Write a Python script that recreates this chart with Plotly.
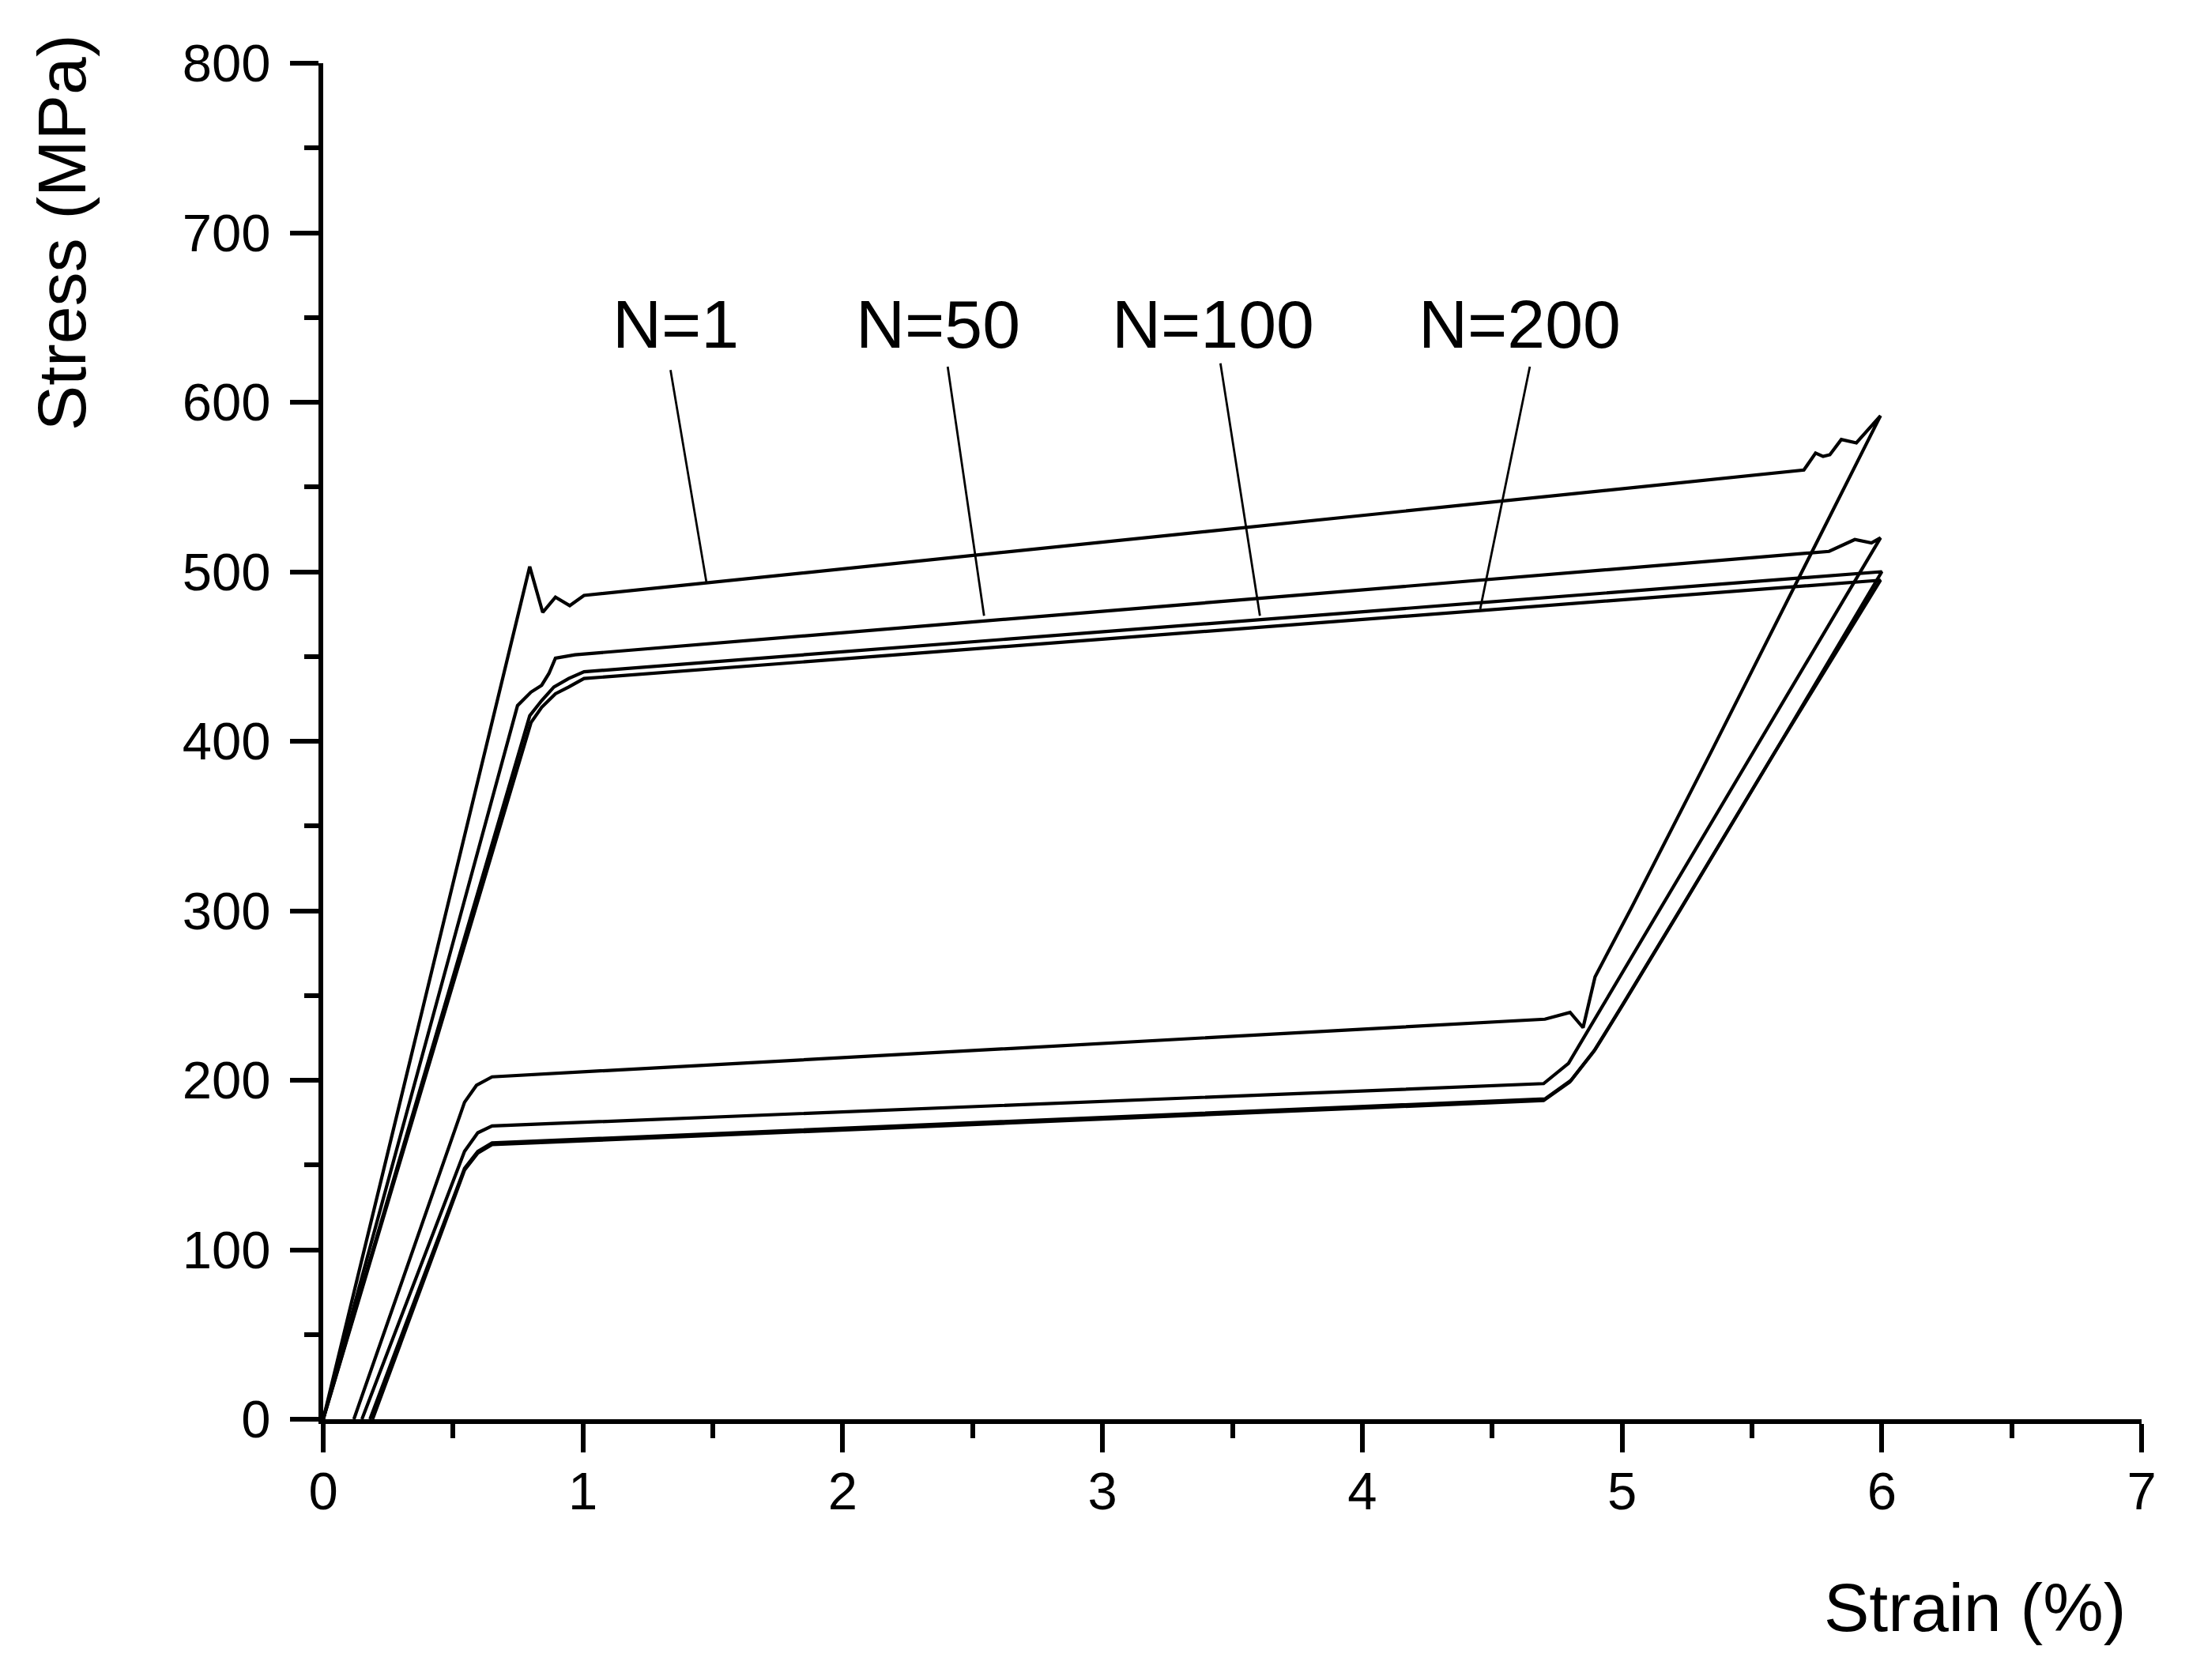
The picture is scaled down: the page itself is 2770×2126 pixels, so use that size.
import plotly.graph_objects as go

# loading/unloading loops (strain in %, stress in MPa)
strain_n1 = [0.0, 0.795, 0.845, 0.894, 0.949, 1.004, 5.70, 5.745, 5.774, 5.80, 5.844, 5.902, 5.995,
             5.344, 5.037, 4.896, 4.85, 4.80, 4.703, 0.65, 0.59, 0.544, 0.118]
stress_n1 = [0, 503, 476, 485, 480, 486, 560, 570, 568, 569, 578, 576, 592,
             394, 302, 261, 231, 240, 236, 202, 197, 187, 0]

strain_n50 = [0.0, 0.748, 0.80, 0.841, 0.869, 0.894, 0.969, 5.797, 5.896, 5.96, 5.995,
              5.506, 5.149, 4.896, 4.794, 4.698, 0.65, 0.595, 0.544, 0.149]
stress_n50 = [0, 421, 429, 433, 440, 449, 451, 512, 519, 517, 520,
              394, 302, 237, 210, 198, 173, 169, 158, 0]

strain_n100 = [0.0, 0.795, 0.841, 0.888, 0.945, 1.004, 6.0,
               5.594, 5.23, 5.097, 4.997, 4.896, 4.804, 4.703, 0.65, 0.595, 0.544, 0.18]
stress_n100 = [0, 415, 424, 432, 437, 441, 500,
               395, 302, 268, 243, 218, 200, 189, 163, 158, 148, 0]

strain_n200 = [0.0, 0.80, 0.841, 0.894, 0.945, 1.004, 5.995,
               5.59, 5.225, 5.092, 4.992, 4.891, 4.799, 4.698, 0.65, 0.595, 0.544, 0.19]
stress_n200 = [0, 411, 420, 428, 432, 437, 495,
               394, 301, 267, 242, 217, 199, 188, 162, 157, 147, 0]

labels = ["N=1", "N=50", "N=100", "N=200"]
label_x = [1.356, 2.366, 3.426, 4.606]
label_y = [646, 646, 646, 646]
# leader lines: (top point, point on curve)
leader_x = [[1.337, 1.475], [2.404, 2.544], [3.454, 3.606], [4.645, 4.454]]
leader_y = [[619, 494], [621, 474], [623, 474], [621, 478]]

FONT = "Liberation Sans, Arial, sans-serif"

fig = go.Figure()
for xs, ys in [(strain_n1, stress_n1), (strain_n50, stress_n50),
               (strain_n100, stress_n100), (strain_n200, stress_n200)]:
    fig.add_trace(go.Scatter(x=xs, y=ys, mode="lines",
                             line=dict(color="black", width=4.2), showlegend=False))

for lx, ly in zip(leader_x, leader_y):
    fig.add_trace(go.Scatter(x=lx, y=ly, mode="lines",
                             line=dict(color="black", width=2.8), showlegend=False))

for t, x, y in zip(labels, label_x, label_y):
    fig.add_annotation(x=x, y=y, text=t, showarrow=False,
                       font=dict(family=FONT, size=86, color="black"),
                       xanchor="center", yanchor="middle")

fig.add_annotation(x=-0.144, y=0.875, xref="paper", yref="paper", text="Stress (MPa)",
                   textangle=-90, showarrow=False, xanchor="center", yanchor="middle",
                   font=dict(family=FONT, size=86, color="black"))
fig.add_annotation(x=0.9085, y=-0.1385, xref="paper", yref="paper", text="Strain (%)",
                   showarrow=False, xanchor="center", yanchor="middle",
                   font=dict(family=FONT, size=86, color="black"))

axis_common = dict(showline=True, linewidth=6, linecolor="black", showgrid=False,
                   zeroline=False, ticks="outside", ticklen=36, tickwidth=6, tickcolor="black",
                   tickfont=dict(family=FONT, size=67, color="black"))

fig.update_xaxes(range=[0, 7], tick0=0, dtick=1,
                 minor=dict(dtick=0.5, ticks="outside", ticklen=18, tickwidth=6,
                            tickcolor="black", showgrid=False),
                 ticklabelstandoff=-8, **axis_common)
fig.update_yaxes(range=[0, 800], tick0=0, dtick=100,
                 minor=dict(dtick=50, ticks="outside", ticklen=18, tickwidth=6,
                            tickcolor="black", showgrid=False),
                 ticklabelstandoff=11, **axis_common)

fig.update_layout(width=2770, height=2126,
                  margin=dict(l=401, r=68, t=72, b=338),
                  plot_bgcolor="white", paper_bgcolor="white",
                  showlegend=False)

fig.write_html("out.html")
